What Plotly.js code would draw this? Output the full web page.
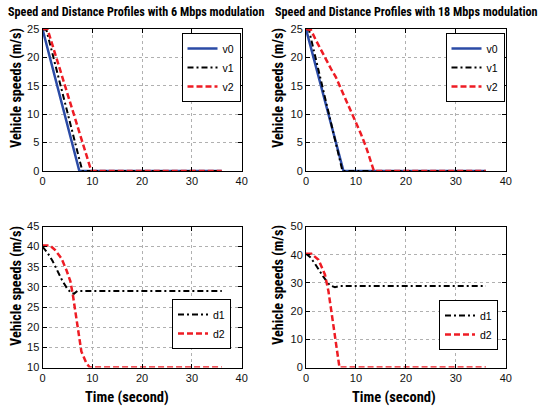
<!DOCTYPE html>
<html>
<head>
<meta charset="utf-8">
<script src="https://cdn.plot.ly/plotly-3.0.1.min.js"></script>
<style>html,body{margin:0;padding:0;background:#fff;}#chart{width:540px;height:407px;}</style>
</head>
<body>
<div id="chart"></div>
<script>
// ---- Data ----
// Top-left: 6 Mbps speeds
const tlV0T = [0, 7.4, 36];
const tlV0Y = [25, 0, 0];
const tlV1T = [0, 0.8, 8.0, 36];
const tlV1Y = [25, 24.8, 0, 0];
const tlV2T = [0, 1, 9.8, 36];
const tlV2Y = [25, 25, 0, 0];
// Top-right: 18 Mbps speeds
const trV0T = [0, 7.5, 36];
const trV0Y = [25, 0, 0];
const trV1T = [0, 0.6, 7.3, 36];
const trV1Y = [25, 24.8, 0, 0];
const trV2T = [0, 1, 2, 3, 4, 5, 6, 7, 8, 9, 10, 11, 12, 13, 13.6, 36];
const trV2Y = [25, 24.8, 23, 21.3, 19.8, 18, 16.5, 14.5, 12.7, 10.5, 8.7, 6.5, 4.3, 1.8, 0, 0];
// Bottom-left: 6 Mbps distances
const blD1T = [0, 1, 2, 3, 4, 5, 5.8, 6.3, 7, 36];
const blD1Y = [40, 38.5, 36.5, 34, 31.5, 29.5, 28.5, 28.3, 29, 29];
const blD2T = [0, 1.5, 2.5, 3.8, 4.8, 5.6, 6.1, 6.7, 7.3, 7.8, 8.8, 9.5, 36];
const blD2Y = [40.3, 40.3, 39.2, 37.1, 34.2, 31.4, 28, 23.1, 18.1, 14, 11.1, 10, 10];
// Bottom-right: 18 Mbps distances
const brD1T = [0, 0.8, 1.8, 3.5, 4.8, 5.8, 6.8, 36];
const brD1Y = [40.3, 39.2, 36.8, 32.1, 29.1, 28.5, 28.9, 28.9];
const brD2T = [0, 1.1, 2.5, 3.8, 4.5, 5, 5.7, 6.3, 6.7, 36];
const brD2Y = [40.3, 40.3, 38.2, 32.9, 27, 21, 12.6, 5.5, 0, 0];

const titles = ["Speed and Distance Profiles with 6 Mbps modulation",
                "Speed and Distance Profiles with 18 Mbps modulation"];
const yTitle = "Vehicle speeds (m/s)";
const xTitle = "Time (second)";

// ---- Styles ----
const BLUE = "#2b4ba6", RED = "#ee1c24", BLACK = "#000000";
const solid = {color: BLUE, width: 2.5, dash: "solid"};
const dashdot = {color: BLACK, width: 2, dash: "6px,3px,2px,3px"};
const dashed = {color: RED, width: 2.5, dash: "6px,3px"};

function tr(x, y, name, line, xa, ya, lg) {
  return {x: x, y: y, name: name, type: "scatter", mode: "lines", line: line,
          xaxis: xa, yaxis: ya, legend: lg};
}
const data = [
  tr(tlV0T, tlV0Y, "v0", solid, "x", "y", "legend"),
  tr(tlV1T, tlV1Y, "v1", dashdot, "x", "y", "legend"),
  tr(tlV2T, tlV2Y, "v2", dashed, "x", "y", "legend"),
  tr(trV0T, trV0Y, "v0", solid, "x2", "y2", "legend2"),
  tr(trV1T, trV1Y, "v1", dashdot, "x2", "y2", "legend2"),
  tr(trV2T, trV2Y, "v2", dashed, "x2", "y2", "legend2"),
  tr(blD1T, blD1Y, "d1", dashdot, "x3", "y3", "legend3"),
  tr(blD2T, blD2Y, "d2", dashed, "x3", "y3", "legend3"),
  tr(brD1T, brD1Y, "d1", dashdot, "x4", "y4", "legend4"),
  tr(brD2T, brD2Y, "d2", dashed, "x4", "y4", "legend4")
];

const FONT = "Liberation Sans, Arial, sans-serif";
const NARROW = "Roboto Condensed, Liberation Sans, Arial, sans-serif";

function ax(domain, range, dtick, anchor) {
  return {domain: domain, range: range, dtick: dtick, anchor: anchor,
          showline: true, linecolor: "#000", linewidth: 1, mirror: "ticks",
          ticks: "inside", ticklen: 4, tickcolor: "#000", tickwidth: 1,
          showgrid: true, gridcolor: "#b0b0b0", griddash: "dot", gridwidth: 1,
          zeroline: false, tickfont: {family: FONT, size: 11, color: "#111"},
          fixedrange: true};
}
const xL = [42.5/540, 241.7/540], xR = [306/540, 505.8/540];
const yT = [1 - 171/407, 1 - 29/407], yB = [1 - 367.5/407, 1 - 226.5/407];

function lg(xr, yt) {
  return {x: xr, y: yt, xanchor: "right", yanchor: "top", bgcolor: "#fff",
          bordercolor: "#000", borderwidth: 1, font: {family: FONT, size: 10.5, color: "#000"},
          itemwidth: 30, tracegroupgap: 0};
}

function ann(text, x, y, size, angle) {
  return {text: text, x: x/540, y: 1 - y/407, xref: "paper", yref: "paper",
          showarrow: false, textangle: angle || 0, xanchor: "center", yanchor: "middle",
          font: {family: NARROW, size: size, color: "#000", weight: "bold"}};
}

const layout = {
  width: 540, height: 407, margin: {l: 0, r: 0, t: 0, b: 0},
  paper_bgcolor: "#fff", plot_bgcolor: "#fff", showlegend: true,
  xaxis: ax(xL, [0, 40], 10, "y"),
  yaxis: ax(yT, [0, 25], 5, "x"),
  xaxis2: ax(xR, [0, 40], 10, "y2"),
  yaxis2: ax(yT, [0, 25], 5, "x2"),
  xaxis3: ax(xL, [0, 40], 10, "y3"),
  yaxis3: ax(yB, [10, 45], 5, "x3"),
  xaxis4: ax(xR, [0, 40], 10, "y4"),
  yaxis4: ax(yB, [0, 50], 10, "x4"),
  legend: lg(240.5/540, 1 - 33/407),
  legend2: lg(504.5/540, 1 - 33/407),
  legend3: lg(231/540, 1 - 299/407),
  legend4: lg(498/540, 1 - 300/407),
  annotations: [
    ann(titles[0], 136, 12, 12.2),
    ann(titles[1], 406, 12, 12.2),
    ann(yTitle, 16, 88, 14.2, -90),
    ann(yTitle, 278, 88, 14.2, -90),
    ann(yTitle, 16, 286, 14.2, -90),
    ann(yTitle, 278, 285, 14.2, -90),
    ann(xTitle, 127, 397, 14.5),
    ann(xTitle, 394, 397, 14.5)
  ]
};

Plotly.newPlot("chart", data, layout, {staticPlot: true, displayModeBar: false});
</script>
</body>
</html>
